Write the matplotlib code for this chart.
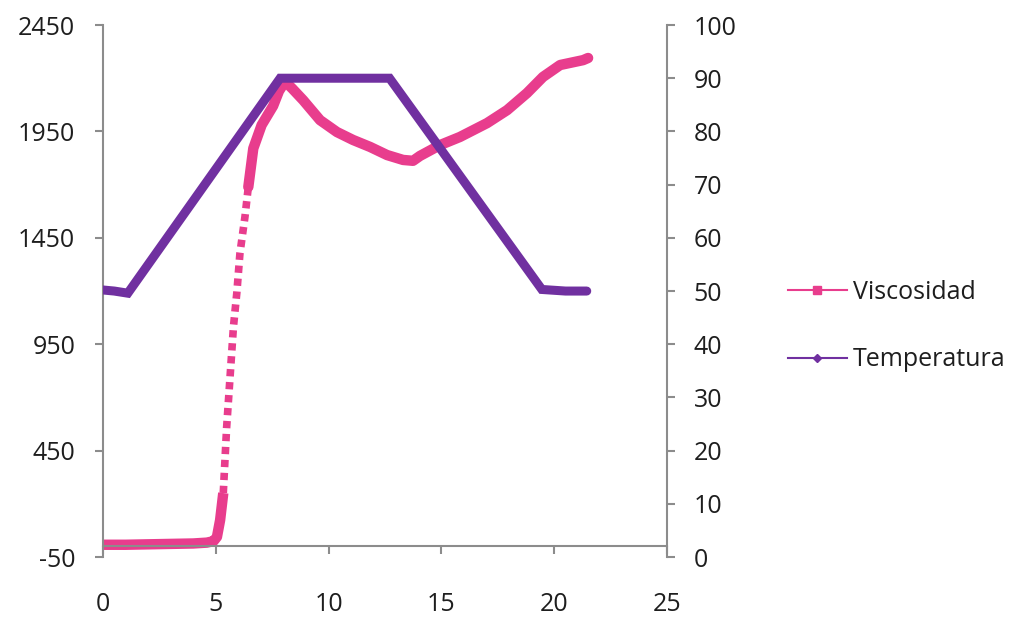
import matplotlib
matplotlib.use('Agg')
import matplotlib.pyplot as plt
from matplotlib.lines import Line2D
import numpy as np

# ================= Data =================
# Viscosidad (left axis)
visc_t = [0.0, 1.0, 2.0, 3.0, 4.0, 4.6, 4.9, 5.05, 5.19, 5.33, 5.48, 5.63, 5.78,
          5.93, 6.07, 6.29, 6.44, 6.66, 7.03, 7.54, 7.8, 8.07, 8.4, 8.87, 9.62,
          10.37, 11.08, 11.84, 12.59, 13.3, 13.74, 14.05, 14.94, 15.82, 17.02,
          17.91, 18.79, 19.5, 20.26, 21.28, 21.5]
visc_v = [8, 8, 10, 12, 14, 18, 25, 45, 124, 251, 561, 796, 1031,
          1191, 1379, 1548, 1689, 1870, 1980, 2070, 2140, 2185, 2150, 2097, 2003,
          1947, 1910, 1877, 1839, 1816, 1812, 1835, 1886, 1924, 1989,
          2050, 2130, 2206, 2262, 2285, 2295]

# Temperatura (right axis)
temp_t = [0.0, 0.5, 1.1, 7.85, 12.7, 19.45, 20.5, 21.44]
temp_v = [50.2, 50.0, 49.6, 90.0, 90.0, 50.3, 50.0, 50.0]

x_ticks = [0, 5, 10, 15, 20, 25]
left_ticks = [-50, 450, 950, 1450, 1950, 2450]
right_ticks = list(range(0, 101, 10))

pink = '#E83D8D'
purple = '#7030A0'
grey = '#8C8C8C'
txt = '#1E1E1E'

plt.rcParams['font.family'] = ['Open Sans', 'DejaVu Sans']
plt.rcParams['axes.unicode_minus'] = False
fs = 18

fig = plt.figure(figsize=(10.15, 6.19), dpi=100)
ax = fig.add_axes([0.1015, 0.1, 0.5557, 0.8596])
ax2 = ax.twinx()

vt = np.array(visc_t)
vv = np.array(visc_v)
# flat / smooth parts drawn solid, the steep rise looks like separate squares
lo = vt <= 5.33
mid = (vt >= 5.33) & (vt <= 6.44)
hi = vt >= 6.44
ax.plot(vt[lo], vv[lo], color=pink, lw=7.5, solid_capstyle='butt')
ax.plot(vt[mid], vv[mid], color=pink, lw=5.5, dashes=(0.95, 0.75),
        dash_capstyle='butt')
ax.plot(vt[hi], vv[hi], color=pink, lw=7.5, solid_capstyle='round',
        solid_joinstyle='round')

ax2.plot(temp_t, temp_v, color=purple, lw=6.5, solid_joinstyle='miter',
         solid_capstyle='round')

ax.set_xlim(0, 25)
ax.set_ylim(-50, 2450)
ax.set_xticks(x_ticks)
ax.set_yticks(left_ticks)
ax2.set_ylim(0, 100)
ax2.set_yticks(right_ticks)

for s in ['top', 'right']:
    ax.spines[s].set_visible(False)
for s in ['top', 'left', 'bottom']:
    ax2.spines[s].set_visible(False)
ax.spines['bottom'].set_position(('data', 0))
for sp in [ax.spines['left'], ax.spines['bottom'], ax2.spines['right']]:
    sp.set_color(grey)
    sp.set_linewidth(1.5)

ax.tick_params(axis='y', direction='out', length=6, width=1.5, color=grey,
               labelsize=fs, labelcolor=txt, pad=14)
ax.tick_params(axis='x', direction='out', length=6, width=1.5, color=grey,
               labelsize=fs, labelcolor=txt, pad=27)
ax2.tick_params(axis='y', direction='out', length=6, width=1.5, color=grey,
                labelsize=fs, labelcolor=txt, pad=13)

handles = [
    Line2D([], [], color=pink, lw=1.5, marker='s', markersize=6,
           markeredgecolor=pink),
    Line2D([], [], color=purple, lw=1.5, marker='D', markersize=4,
           markeredgecolor=purple),
]
fig.legend(handles, ['Viscosidad', 'Temperatura'], loc='center left',
           bbox_to_anchor=(0.776, 0.473), frameon=False, fontsize=fs,
           handlelength=2.36, handletextpad=0.25, labelspacing=1.7,
           borderpad=0, borderaxespad=0, labelcolor=txt)

fig.savefig('out.png', dpi=100)
